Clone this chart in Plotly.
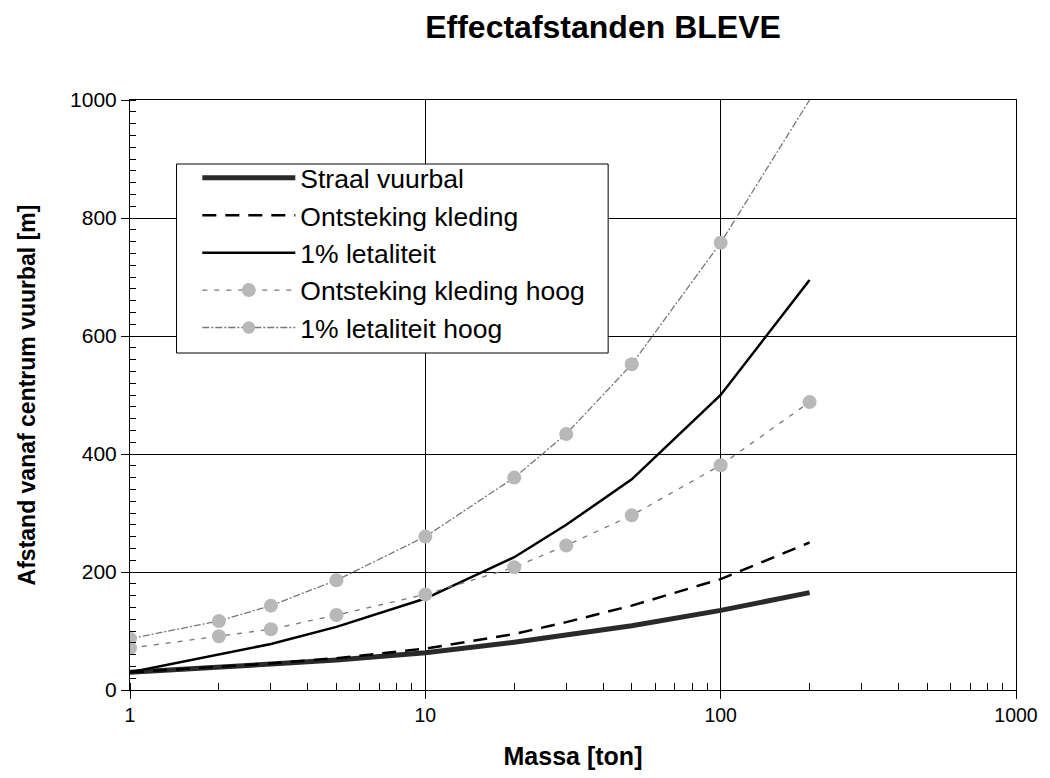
import plotly.graph_objects as go

massa = [1, 2, 3, 5, 10, 20, 30, 50, 100, 200]
straal_vuurbal = [30, 38, 44, 51, 63, 81, 93, 109, 135, 165]
ontsteking_kleding = [30, 39, 45, 54, 70, 95, 115, 143, 188, 250]
letaliteit_1 = [30, 60, 78, 107, 155, 225, 280, 357, 500, 695]
ontsteking_hoog = [71, 91, 103, 127, 162, 208, 245, 296, 381, 488]
letaliteit_hoog = [87, 117, 143, 186, 260, 360, 434, 552, 758, 1000]

names = ["Straal vuurbal", "Ontsteking kleding", "1% letaliteit",
         "Ontsteking kleding hoog", "1% letaliteit hoog"]

FONT = "Arial, Liberation Sans, sans-serif"
fig = go.Figure()
fig.add_trace(go.Scatter(x=massa, y=straal_vuurbal, name=names[0], mode="lines",
                         line=dict(color="#2a2a2a", width=5)))
fig.add_trace(go.Scatter(x=massa, y=ontsteking_kleding, name=names[1], mode="lines",
                         line=dict(color="black", width=2.5, dash="14px,9px")))
fig.add_trace(go.Scatter(x=massa, y=letaliteit_1, name=names[2], mode="lines",
                         line=dict(color="black", width=2.5)))
fig.add_trace(go.Scatter(x=massa, y=ontsteking_hoog, name=names[3], mode="lines+markers",
                         line=dict(color="#777777", width=1.3, dash="5px,7px"),
                         marker=dict(symbol="circle", size=14, color="#b8b8b8",
                                     opacity=1, line=dict(width=0))))
# last point sits on the top border; the original shows no marker there
hoog_sizes = [14] * (len(massa) - 1) + [0]
fig.add_trace(go.Scatter(x=massa, y=letaliteit_hoog, name=names[4], mode="lines+markers",
                         line=dict(color="#777777", width=1.3, dash="7px,2px,2px,2px"),
                         marker=dict(symbol="circle", size=hoog_sizes, color="#b8b8b8",
                                     opacity=1, line=dict(width=0, color="#b8b8b8"))))

W, H = 1050, 778
L, R, T, B = 130, 25, 100, 88
pw, ph = W - L - R, H - T - B

def px(x):
    return (x - L) / pw

def py(y):
    return (H - B - y) / ph

fig.add_shape(type="rect", xref="paper", yref="paper",
              x0=px(177), x1=px(613), y0=py(353), y1=py(164),
              fillcolor="white", line=dict(color="black", width=1), layer="above")

fig.update_layout(
    width=W, height=H,
    margin=dict(l=L, r=R, t=T, b=B),
    paper_bgcolor="white", plot_bgcolor="white",
    font=dict(family=FONT, color="black", size=20),
    title=dict(text="<b>Effectafstanden BLEVE</b>", x=603 / W, xanchor="center",
               xref="container", y=1 - 27 / H, yanchor="middle",
               font=dict(size=32, family=FONT)),
    showlegend=True,
    legend=dict(x=px(198), y=py(154), xanchor="left", yanchor="top",
                bgcolor="rgba(0,0,0,0)", borderwidth=0, itemwidth=93,
                font=dict(size=26.5, family=FONT), tracegroupgap=0),
    xaxis=dict(type="log", range=[0, 3], dtick=1, exponentformat="none",
               showgrid=True, gridcolor="black", gridwidth=1,
               showline=True, linecolor="black", linewidth=1, mirror=True,
               ticks="outside", ticklen=8, tickcolor="black",
               minor=dict(ticks="inside", ticklen=7, dtick="D1", tickcolor="black", showgrid=False),
               tickfont=dict(size=19.5), zeroline=False,
               title=dict(text="<b>Massa [ton]</b>", font=dict(size=25), standoff=22)),
    yaxis=dict(range=[0, 1000], dtick=200,
               showgrid=True, gridcolor="black", gridwidth=1,
               showline=True, linecolor="black", linewidth=1, mirror=True,
               ticks="outside", ticklen=8, tickcolor="black",
               minor=dict(ticks="inside", ticklen=6, dtick=20, tickcolor="black", showgrid=False),
               tickfont=dict(size=21), zeroline=False,
               title=dict(text="<b>Afstand vanaf centrum vuurbal [m]</b>", font=dict(size=23), standoff=28)),
)

fig.write_html("out.html")
